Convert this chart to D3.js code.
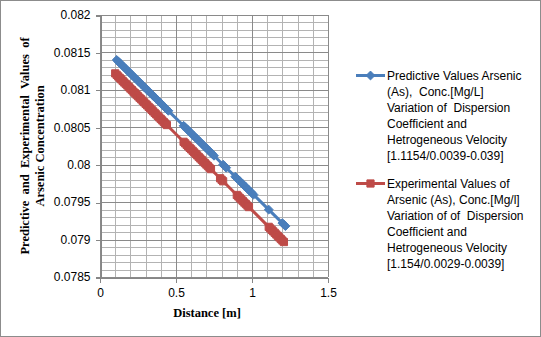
<!DOCTYPE html>
<html>
<head>
<meta charset="utf-8">
<script src="https://cdn.jsdelivr.net/npm/d3@7"></script>
<style>
  html, body { margin: 0; padding: 0; background: #fff; }
  svg { display: block; }
  text { white-space: pre; }
</style>
</head>
<body>
<svg id="chart" width="541" height="337"></svg>
<script>
// Distance [m] and arsenic concentration for the two series
const predDistance = [
  0.11, 0.12, 0.13, 0.14, 0.15, 0.16, 0.17, 0.18, 0.19, 0.20, 0.21, 0.22, 0.23, 0.24, 0.25, 0.26, 0.27, 0.28,
  0.29, 0.30, 0.31, 0.32, 0.33, 0.34, 0.35, 0.36, 0.37, 0.38, 0.39, 0.40, 0.41, 0.42, 0.43, 0.44, 0.45,
  0.55, 0.56, 0.57, 0.58, 0.59, 0.60, 0.61, 0.62, 0.63, 0.64, 0.65, 0.66, 0.67, 0.68, 0.69, 0.70, 0.71,
  0.72, 0.73, 0.74, 0.75,
  0.81, 0.82, 0.83,
  0.89, 0.90, 0.91, 0.92, 0.93, 0.94, 0.95, 0.96, 0.97, 0.98, 0.99, 1.00, 1.01,
  1.11, 1.20, 1.21, 1.22];
const predValues = [
  0.08140, 0.08138, 0.08136, 0.08134, 0.08132, 0.08130, 0.08128, 0.08126, 0.08124, 0.08122, 0.08120, 0.08118,
  0.08116, 0.08114, 0.08112, 0.08110, 0.08108, 0.08106, 0.08104, 0.08102, 0.08100, 0.08098, 0.08096, 0.08094,
  0.08092, 0.08090, 0.08088, 0.08086, 0.08084, 0.08082, 0.08080, 0.08078, 0.08076, 0.08074, 0.08072,
  0.08052, 0.08050, 0.08048, 0.08046, 0.08044, 0.08042, 0.08040, 0.08038, 0.08036, 0.08034, 0.08032, 0.08030,
  0.08028, 0.08026, 0.08024, 0.08022, 0.08020, 0.08018, 0.08016, 0.08014, 0.08012,
  0.08000, 0.07998, 0.07996,
  0.07984, 0.07982, 0.07980, 0.07978, 0.07976, 0.07974, 0.07972, 0.07970, 0.07968, 0.07966, 0.07964, 0.07962, 0.07960,
  0.07940, 0.07922, 0.07920, 0.07918];

const expDistance = [
  0.10, 0.11, 0.12, 0.13, 0.14, 0.15, 0.16, 0.17, 0.18, 0.19, 0.20, 0.21, 0.22, 0.23, 0.24, 0.25, 0.26, 0.27,
  0.28, 0.29, 0.30, 0.31, 0.32, 0.33, 0.34, 0.35, 0.36, 0.37, 0.38, 0.39, 0.40, 0.41, 0.42, 0.43, 0.44,
  0.55, 0.56, 0.57, 0.58, 0.59, 0.60, 0.61, 0.62, 0.63, 0.64, 0.65, 0.66, 0.67, 0.68, 0.69, 0.70, 0.71, 0.72, 0.73,
  0.79, 0.80, 0.81,
  0.90, 0.91, 0.92, 0.93, 0.94, 0.95, 0.96, 0.97, 0.98,
  1.11, 1.12, 1.13, 1.14, 1.15, 1.16, 1.17, 1.18, 1.19, 1.20, 1.21];
const expValues = [
  0.081220, 0.081200, 0.081179, 0.081159, 0.081139, 0.081118, 0.081098, 0.081078, 0.081058, 0.081037,
  0.081017, 0.080997, 0.080976, 0.080956, 0.080936, 0.080915, 0.080895, 0.080875, 0.080855, 0.080834,
  0.080814, 0.080794, 0.080773, 0.080753, 0.080733, 0.080712, 0.080692, 0.080672, 0.080652, 0.080631,
  0.080611, 0.080591, 0.080570, 0.080550, 0.080530,
  0.080306, 0.080286, 0.080266, 0.080245, 0.080225, 0.080205, 0.080185, 0.080164, 0.080144, 0.080124,
  0.080103, 0.080083, 0.080063, 0.080042, 0.080022, 0.080002, 0.079982, 0.079961, 0.079941,
  0.079819, 0.079799, 0.079779,
  0.079596, 0.079576, 0.079555, 0.079535, 0.079515, 0.079494, 0.079474, 0.079454, 0.079434,
  0.079170, 0.079149, 0.079129, 0.079109, 0.079089, 0.079068, 0.079048, 0.079028, 0.079007, 0.078987, 0.078967];

const xTicks = [0, 0.5, 1, 1.5];
const yTicks = [0.0785, 0.079, 0.0795, 0.08, 0.0805, 0.081, 0.0815, 0.082];
const xTickLabels = ["0", "0.5", "1", "1.5"];
const yTickLabels = ["0.0785", "0.079", "0.0795", "0.08", "0.0805", "0.081", "0.0815", "0.082"];

const xTitle = "Distance [m]";
const yTitleLines = ["Predictive  and  Experimental  Values  of", "Arsenic Concentration"];

const predLegend = ["Predictive Values Arsenic", "(As),  Conc.[Mg/L]", "Variation of  Dispersion", "Coefficient and", "Hetrogeneous Velocity", "[1.1154/0.0039-0.039]"];
const expLegend = ["Experimental Values of", "Arsenic (As), Conc.[Mg/l]", "Variation of of  Dispersion", "Coefficient and", "Hetrogeneous Velocity", "[1.154/0.0029-0.0039]"];

const blue = "#4a7ebb";
const red = "#be4b48";

const svg = d3.select("#chart");
const W = 541, H = 337;
const plot = { left: 100, right: 328, top: 15, bottom: 277 };

// outer chart frame
svg.append("rect").attr("x", 0.5).attr("y", 0.5).attr("width", W - 1).attr("height", H - 1)
  .attr("fill", "#fff").attr("stroke", "#8c8c8c").attr("stroke-width", 1);

const x = d3.scaleLinear().domain([0, 1.5]).range([plot.left, plot.right]);
const y = d3.scaleLinear().domain([0.0785, 0.082]).range([plot.bottom, plot.top]);

// minor gridlines
const grid = svg.append("g").attr("shape-rendering", "crispEdges");
const minorX = d3.range(0, 15).map(i => i / 10);
const minorY = d3.range(0, 35).map(i => 0.0785 + i * 0.0001);
grid.selectAll("line.mx").data(minorX).join("line")
  .attr("x1", d => Math.round(x(d)) + 0.5).attr("x2", d => Math.round(x(d)) + 0.5)
  .attr("y1", plot.top).attr("y2", plot.bottom)
  .attr("stroke", "#b3b3b3").attr("stroke-width", 1);
grid.selectAll("line.my").data(minorY).join("line")
  .attr("y1", d => Math.round(y(d)) + 0.5).attr("y2", d => Math.round(y(d)) + 0.5)
  .attr("x1", plot.left).attr("x2", plot.right)
  .attr("stroke", "#b3b3b3").attr("stroke-width", 1);
// major gridlines
grid.selectAll("line.gx").data(xTicks).join("line")
  .attr("x1", d => Math.round(x(d)) + 0.5).attr("x2", d => Math.round(x(d)) + 0.5)
  .attr("y1", plot.top).attr("y2", plot.bottom)
  .attr("stroke", "#8a8a8a").attr("stroke-width", 1);
grid.selectAll("line.gy").data(yTicks).join("line")
  .attr("y1", d => Math.round(y(d)) + 0.5).attr("y2", d => Math.round(y(d)) + 0.5)
  .attr("x1", plot.left).attr("x2", plot.right)
  .attr("stroke", "#8a8a8a").attr("stroke-width", 1);

// axes
const tickFont = "'Liberation Sans', Arial, sans-serif";
const xAxis = d3.axisBottom(x).tickValues(xTicks).tickSize(5).tickPadding(6)
  .tickFormat((d, i) => xTickLabels[i]);
const yAxis = d3.axisLeft(y).tickValues(yTicks).tickSize(5).tickPadding(5)
  .tickFormat((d, i) => yTickLabels[i]);

const gx = svg.append("g").attr("transform", `translate(0,${plot.bottom + 0.5})`).call(xAxis);
const gy = svg.append("g").attr("transform", `translate(${plot.left + 0.5},0)`).call(yAxis);
[gx, gy].forEach(g => {
  g.attr("shape-rendering", "crispEdges");
  g.select(".domain").attr("stroke", "#868686");
  g.selectAll(".tick line").attr("stroke", "#868686");
  g.selectAll(".tick text").attr("fill", "#000").style("font-family", tickFont).style("font-size", "12px");
});
gy.selectAll(".tick line").attr("transform", "translate(0,0.5)");

// series lines and markers
const predData = predDistance.map((d, i) => [d, predValues[i]]);
const expData = expDistance.map((d, i) => [d, expValues[i]]);
const line = d3.line().x(d => x(d[0])).y(d => y(d[1]));

svg.append("path").datum(predData).attr("d", line)
  .attr("fill", "none").attr("stroke", blue).attr("stroke-width", 3).attr("stroke-linejoin", "round");
svg.append("path").datum(expData).attr("d", line)
  .attr("fill", "none").attr("stroke", red).attr("stroke-width", 3).attr("stroke-linejoin", "round");

const diamond = d3.symbol().type(d3.symbolDiamond2).size(50);
const square = d3.symbol().type(d3.symbolSquare).size(52);

svg.append("g").selectAll("path").data(predData).join("path")
  .attr("d", diamond).attr("transform", d => `translate(${x(d[0])},${y(d[1])})`)
  .attr("fill", blue).attr("stroke", blue).attr("stroke-width", 1);
svg.append("g").selectAll("path").data(expData).join("path")
  .attr("d", square).attr("transform", d => `translate(${x(d[0])},${y(d[1])})`)
  .attr("fill", red).attr("stroke", red).attr("stroke-width", 1);

// axis titles
const titleFont = "'Liberation Serif', 'Times New Roman', serif";
svg.append("text").attr("x", 207).attr("y", 317).attr("text-anchor", "middle")
  .style("font-family", titleFont).style("font-size", "12.5px").style("font-weight", "bold")
  .text(xTitle);
const yt = svg.append("text").attr("transform", "translate(0,146) rotate(-90)")
  .style("font-family", titleFont).style("font-size", "12.5px").style("font-weight", "bold")
  .attr("text-anchor", "middle");
yt.selectAll("tspan").data(yTitleLines).join("tspan")
  .attr("x", 0).attr("y", (d, i) => 29 + i * 15).text(d => d);

// legend
const legendFont = "'Liberation Sans', Arial, sans-serif";
function legendEntry(lines, y0, color, sym) {
  const g = svg.append("g");
  g.append("line").attr("x1", 356).attr("x2", 385).attr("y1", y0).attr("y2", y0)
    .attr("stroke", color).attr("stroke-width", 3);
  g.append("path").attr("d", sym).attr("transform", `translate(370.5,${y0})`)
    .attr("fill", color).attr("stroke", color).attr("stroke-width", 1);
  g.selectAll("text").data(lines).join("text")
    .attr("x", 387).attr("y", (d, i) => y0 + 4.5 + i * 16)
    .style("font-family", legendFont).style("font-size", "12px").attr("fill", "#000")
    .text(d => d);
}
legendEntry(predLegend, 75.5, blue, diamond);
legendEntry(expLegend, 183.5, red, square);
</script>
</body>
</html>
